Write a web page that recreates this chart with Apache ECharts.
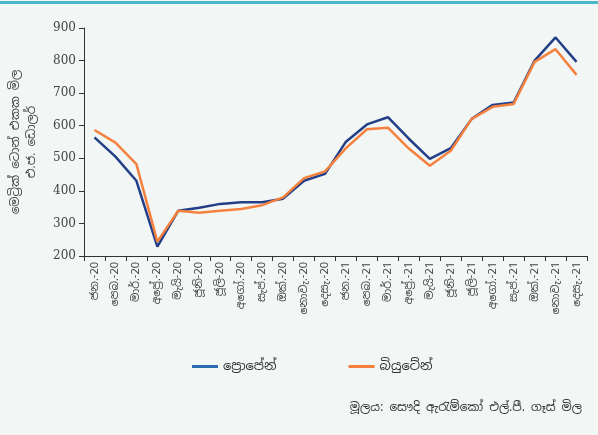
<!DOCTYPE html>
<html><head><meta charset="utf-8">
<script src="https://cdn.jsdelivr.net/npm/echarts@6/dist/echarts.min.js"></script>
<style>html,body{margin:0;padding:0;background:#f2f6f5;}#c{width:598px;height:435px;}</style>
</head><body><div id="c"></div>
<script>
const categories = ['ජන.-20','පෙබ.-20','මාර්.-20','අප්‍රේ.-20','මැයි-20','ජූනි-20','ජූලි-20','අගෝ.-20','සැප්.-20','ඔක්.-20','නොවැ.-20','දෙසැ.-20',
  'ජන.-21','පෙබ.-21','මාර්.-21','අප්‍රේ.-21','මැයි-21','ජූනි-21','ජූලි-21','අගෝ.-21','සැප්.-21','ඔක්.-21','නොවැ.-21','දෙසැ.-21'];
const propane = [564,505,431,229,339,348,360,365,365,376,431,452,551,604,626,560,498,531,621,664,671,800,871,796];
const butane  = [587,548,482,244,339,333,339,344,356,380,439,460,531,589,594,530,477,523,621,658,667,796,835,756];
const seriesNames = ['ප්‍රොපේන්','බියුටේන්'];
const yTitle = 'මෙට්‍රික් ටොන් එකක මිල\nඑ.ජ. ඩොලර්';
const sourceText = 'මූලය: සෞදි ඇරැම්කෝ එල්.පී. ගෑස් මිල';
const FONT = '"Noto Sans Sinhala","Noto Sans","Liberation Sans",sans-serif';
const chart = echarts.init(document.getElementById('c'));
chart.setOption({
  backgroundColor:'#f2f6f5',
  animation:false,
  textStyle:{fontFamily:FONT},
  graphic:[
    {type:'rect',shape:{x:0,y:1,width:598,height:3},style:{fill:'#4bb8c9'}},
    {type:'text',right:16,top:402,style:{text:sourceText,fontSize:12,fill:'#333',fontFamily:FONT}}
  ],
  grid:{left:80,right:11,top:28,bottom:179},
  legend:{
    data:[
      {name:seriesNames[0],icon:'rect',itemStyle:{color:'#2a6db3',borderWidth:0},lineStyle:{color:'#2a6db3'}},
      {name:seriesNames[1],icon:'rect',itemStyle:{color:'#f5813f',borderWidth:0},lineStyle:{color:'#f5813f'}}
    ],
    top:355, left:187, itemGap:72, itemWidth:26, itemHeight:3,
    textStyle:{fontSize:13,color:'#333',fontFamily:FONT}
  },
  xAxis:{
    type:'category', data:categories, boundaryGap:true,
    axisLine:{lineStyle:{color:'#333',width:1}},
    axisTick:{show:true,alignWithLabel:false,length:5,lineStyle:{color:'#333'}},
    axisLabel:{rotate:90,fontSize:11,color:'#444',interval:0,margin:6,fontFamily:FONT}
  },
  yAxis:{
    type:'value', min:200, max:900, interval:100,
    name:yTitle, nameLocation:'middle', nameRotate:90, nameGap:44,
    nameTextStyle:{fontSize:12,color:'#444',lineHeight:16,fontFamily:FONT},
    axisLine:{show:true,lineStyle:{color:'#333'}},
    axisTick:{show:true,length:5,lineStyle:{color:'#333'}},
    splitLine:{show:false},
    axisLabel:{fontSize:12,color:'#444',margin:8,fontFamily:'"DejaVu Serif","Liberation Serif",serif'}
  },
  series:[
    {name:seriesNames[0],type:'line',data:propane,symbol:'none',lineStyle:{color:'#233f88',width:2.5},itemStyle:{color:'#233f88'}},
    {name:seriesNames[1],type:'line',data:butane,symbol:'none',lineStyle:{color:'#f5813f',width:2.5},itemStyle:{color:'#f5813f'}}
  ]
});
</script></body></html>
